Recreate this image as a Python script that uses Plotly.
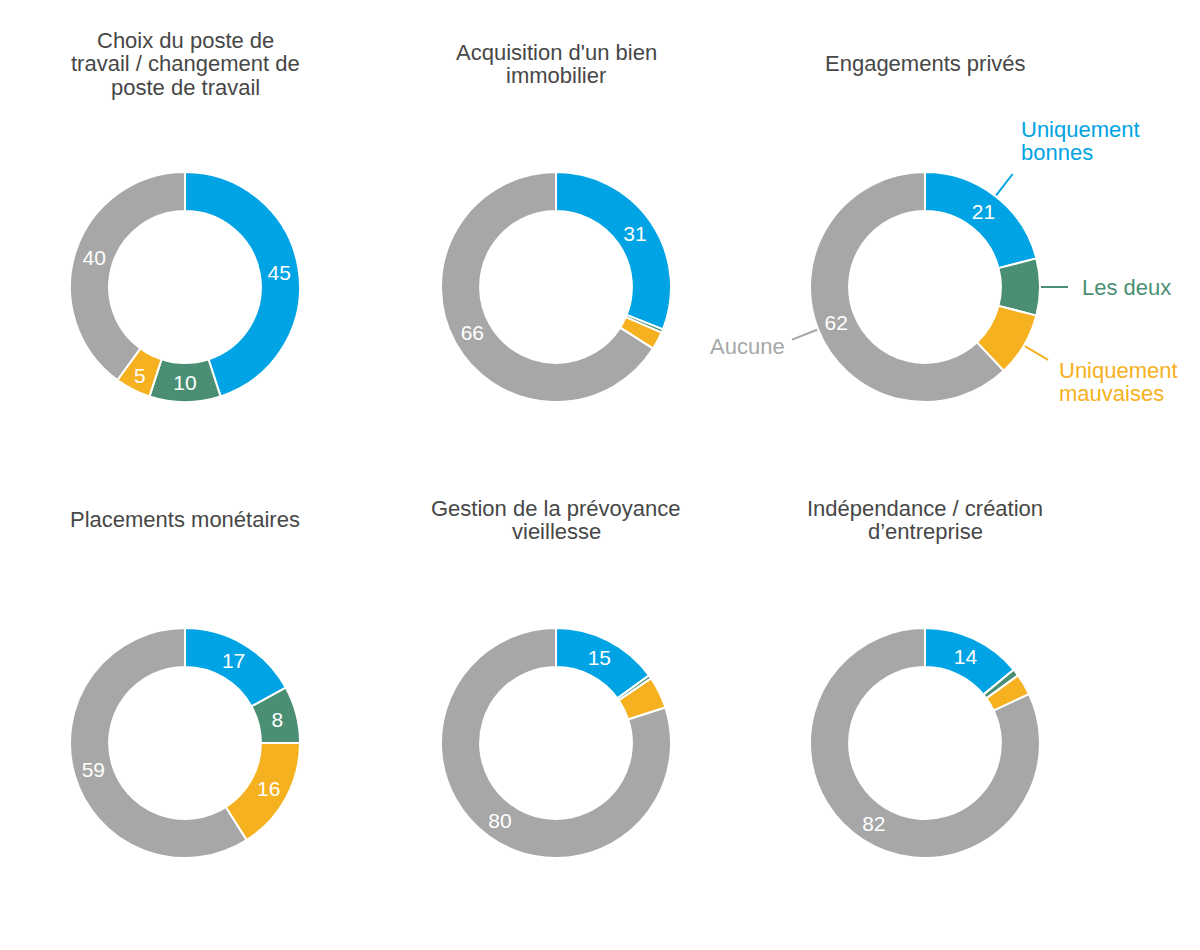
import math
import plotly.graph_objects as go

# ---------------- data ----------------
categories = ["Uniquement bonnes", "Les deux", "Uniquement mauvaises", "Aucune"]
colors = ["#00A3E3", "#4A8F73", "#F5B120", "#A7A7A7"]

titles = [
    ["Choix du poste de", "travail / changement de", "poste de travail"],
    ["Acquisition d'un bien", "immobilier"],
    ["Engagements privés"],
    ["Placements monétaires"],
    ["Gestion de la prévoyance", "vieillesse"],
    ["Indépendance / création", "d’entreprise"],
]

choix_poste = [45, 10, 5, 40]
acquisition = [31, 0.5, 2.5, 66]
engagements = [21, 8, 9, 62]
placements = [17, 8, 16, 59]
prevoyance = [15, 0.5, 4.5, 80]
independance = [14, 1, 3, 82]
series = [choix_poste, acquisition, engagements, placements, prevoyance, independance]

# which slice values are printed inside the ring
show_value = [
    [True, True, True, True],
    [True, False, False, True],
    [True, False, False, True],
    [True, True, True, True],
    [True, False, False, True],
    [True, False, False, True],
]
callout_chart = 2
callout_labels = [["Uniquement", "bonnes"], ["Les deux"], ["Uniquement", "mauvaises"], ["Aucune"]]

# ---------------- layout / style ----------------
W, H = 1200, 950
PAGE_OFF = 8  # page margin of the html body
R = 115
HOLE = 0.66
centers_x = [185, 556, 925]
centers_y = [287, 743]
FONT = "Liberation Sans, Arial, Helvetica, sans-serif"
TITLE_COLOR = "#474747"
TITLE_SIZE = 22
LINE_GAP = 23.3

fig = go.Figure()
annotations = []
shapes = []


def px_x(x):
    return (x - PAGE_OFF) / W


def px_y(y):
    return 1 - (y - PAGE_OFF) / H


def add_text_line(text, x, baseline, size, color, xanchor):
    annotations.append(dict(
        text=text, x=px_x(x), y=px_y(baseline - 0.35 * size),
        xref="paper", yref="paper", xanchor=xanchor, yanchor="middle",
        showarrow=False, font=dict(family=FONT, size=size, color=color),
    ))


for i, vals in enumerate(series):
    cx = centers_x[i % 3]
    cy = centers_y[i // 3]
    texts = [str(v) if s else "" for v, s in zip(vals, show_value[i])]
    fig.add_trace(go.Pie(
        labels=categories, values=vals, text=texts,
        textinfo="text", texttemplate="%{text}", textposition="inside",
        insidetextorientation="horizontal",
        textfont=dict(family=FONT, size=21, color="white"),
        marker=dict(colors=colors, line=dict(color="white", width=2)),
        hole=HOLE, sort=False, direction="clockwise", rotation=0,
        showlegend=False,
        domain=dict(x=[px_x(cx - R), px_x(cx + R)], y=[px_y(cy + R), px_y(cy - R)]),
    ))
    # title lines
    lines = titles[i]
    n = len(lines)
    mid_baseline = cy - 215.5
    for k, ln in enumerate(lines):
        add_text_line(ln, cx, mid_baseline + (k - (n - 1) / 2) * LINE_GAP, TITLE_SIZE, TITLE_COLOR, "center")

    if i == callout_chart:
        total = sum(vals)
        cum = 0
        for j, v in enumerate(vals):
            theta = math.radians(360 * (cum + v / 2) / total)
            cum += v
            x0 = cx + (R + 1) * math.sin(theta)
            y0 = cy - (R + 1) * math.cos(theta)
            x1 = cx + (R + 28) * math.sin(theta)
            y1 = cy - (R + 28) * math.cos(theta)
            if j == 1:  # horizontal leader for "Les deux"
                y0 = y1 = (y0 + y1) / 2
            shapes.append(dict(type="line", xref="paper", yref="paper",
                               x0=px_x(x0), y0=px_y(y0), x1=px_x(x1), y1=px_y(y1),
                               line=dict(color=colors[j], width=2)))
            lab = callout_labels[j]
            if j == 0:
                first = y1 - 14 - (len(lab) - 1) * 22.7
                for k, ln in enumerate(lab):
                    add_text_line(ln, x1 + 6.5, first + k * 22.7, 22, colors[j], "left")
            elif j == 1:
                add_text_line(lab[0], x1 + 12, y1 + 8.3, 22, colors[j], "left")
            elif j == 2:
                for k, ln in enumerate(lab):
                    add_text_line(ln, x1 + 9.4, y1 + 18.4 + k * 22.7, 22, colors[j], "left")
            else:
                add_text_line(lab[0], x1 - 4.7, y1 + 14.3, 22, colors[j], "right")

fig.update_layout(
    width=W, height=H,
    margin=dict(l=0, r=0, t=0, b=0),
    paper_bgcolor="white", plot_bgcolor="white",
    annotations=annotations, shapes=shapes,
    font=dict(family=FONT),
)

fig.write_html("out.html")
